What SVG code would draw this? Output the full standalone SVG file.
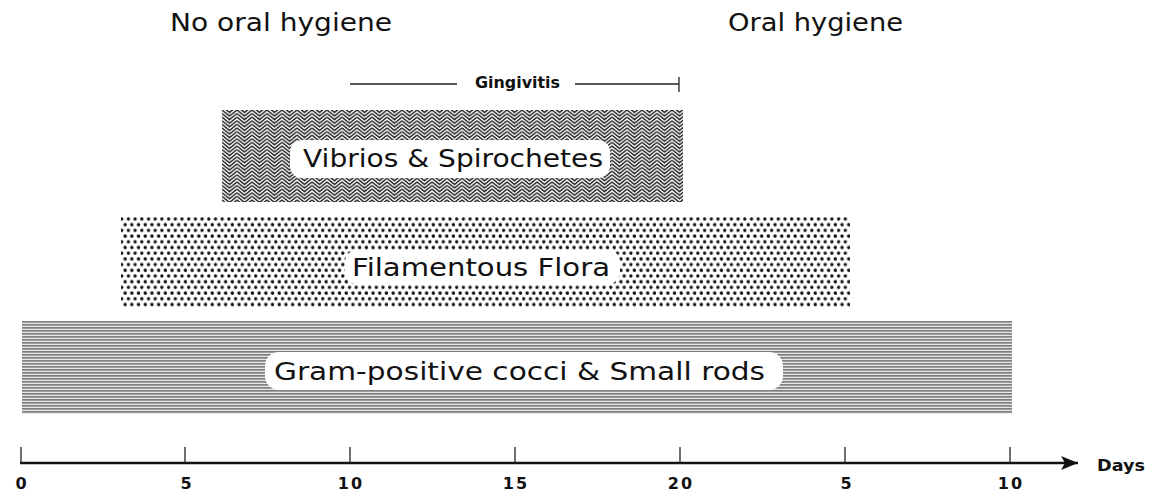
<svg xmlns="http://www.w3.org/2000/svg" width="1150" height="493" viewBox="0 0 1150 493">
<style>
  .big { font-family: "DejaVu Sans", "Liberation Sans", sans-serif; font-size: 25px; fill: #111; }
  .lbl { font-family: "DejaVu Sans", "Liberation Sans", sans-serif; font-size: 24px; fill: #111; }
  .small { font-family: "DejaVu Sans", "Liberation Sans", sans-serif; font-size: 15px; font-weight: bold; fill: #111; }
  .tick { font-family: "DejaVu Sans", "Liberation Sans", sans-serif; font-size: 16px; font-weight: bold; fill: #111; }
  .line { stroke: #111; stroke-width: 2.5; fill: none; }
  .thin { stroke: #222; stroke-width: 1.3; fill: none; }
</style>
<defs>
  <pattern id="zig" x="222" y="110" width="15" height="3.6" patternUnits="userSpaceOnUse">
    <rect width="15" height="3.6" fill="#fff"/>
    <path d="M0,-3.6 L7.5,2.4 L15,-3.6 M0,0 L7.5,6 L15,0 M0,3.6 L7.5,9.6 L15,3.6 M0,-7.2 L7.5,-1.2 L15,-7.2" stroke="#2a2a2a" stroke-width="1.5" fill="none"/>
  </pattern>
  <pattern id="dots" x="120" y="217" width="6.7" height="11.4" patternUnits="userSpaceOnUse">
    <rect width="6.7" height="11.4" fill="#fff"/>
    <circle cx="1.7" cy="2" r="1.7" fill="#111"/>
    <circle cx="5.05" cy="7.7" r="1.7" fill="#111"/>
    <circle cx="-1.65" cy="7.7" r="1.7" fill="#111"/>
  </pattern>
  <pattern id="hlines" x="22" y="321" width="10" height="3" patternUnits="userSpaceOnUse">
    <rect width="10" height="3" fill="#e6e6e6"/>
    <rect y="0" width="10" height="1.7" fill="#808080"/>
  </pattern>
  <marker id="arr" markerWidth="18" markerHeight="16" refX="17" refY="8" orient="auto" markerUnits="userSpaceOnUse">
    <path d="M0,1 L17,8 L0,15 L4,8 Z" fill="#111"/>
  </marker>
</defs>

<g id="headings">
  <text class="big" x="170" y="31" textLength="222" lengthAdjust="spacingAndGlyphs">No oral hygiene</text>
  <text class="big" x="728" y="31" textLength="175" lengthAdjust="spacingAndGlyphs">Oral hygiene</text>
</g>

<g id="gingivitis">
  <line class="thin" x1="350" y1="84" x2="457" y2="84"/>
  <line class="thin" x1="575" y1="84" x2="679" y2="84"/>
  <line class="thin" x1="679" y1="77" x2="679" y2="92"/>
  <text class="small" x="475" y="88" textLength="85" lengthAdjust="spacingAndGlyphs">Gingivitis</text>
</g>

<g id="vibrios">
  <rect x="222" y="110" width="461" height="92" fill="url(#zig)"/>
  <rect x="290" y="140" width="320" height="38" rx="12" fill="#fff"/>
  <text class="lbl" x="303" y="167" textLength="300" lengthAdjust="spacingAndGlyphs">Vibrios &amp; Spirochetes</text>
</g>

<g id="filamentous">
  <rect x="121" y="217" width="729" height="90" fill="url(#dots)"/>
  <rect x="345" y="250" width="275" height="34" rx="12" fill="#fff"/>
  <text class="lbl" x="352" y="276" textLength="258" lengthAdjust="spacingAndGlyphs">Filamentous Flora</text>
</g>

<g id="gram">
  <rect x="22" y="321" width="990" height="93" fill="url(#hlines)"/>
  <rect x="265" y="352" width="518" height="38" rx="14" fill="#fff"/>
  <text class="lbl" x="274" y="380" textLength="491" lengthAdjust="spacingAndGlyphs">Gram-positive cocci &amp; Small rods</text>
</g>

<g id="connectors">
  <line class="line" x1="20" y1="463" x2="1078" y2="463" marker-end="url(#arr)"/>
  <line class="thin" x1="21" y1="447" x2="21" y2="463"/>
  <line class="thin" x1="185" y1="447" x2="185" y2="463"/>
  <line class="thin" x1="350" y1="447" x2="350" y2="463"/>
  <line class="thin" x1="515" y1="447" x2="515" y2="463"/>
  <line class="thin" x1="680" y1="447" x2="680" y2="463"/>
  <line class="thin" x1="845" y1="447" x2="845" y2="463"/>
  <line class="thin" x1="1010" y1="447" x2="1010" y2="463"/>
</g>

<g id="axis-labels">
  <text class="tick" x="21" y="489" text-anchor="middle">0</text>
  <text class="tick" x="186" y="489" text-anchor="middle">5</text>
  <text class="tick" x="351" y="489" text-anchor="middle" letter-spacing="2">10</text>
  <text class="tick" x="516" y="489" text-anchor="middle" letter-spacing="2">15</text>
  <text class="tick" x="681" y="489" text-anchor="middle" letter-spacing="2">20</text>
  <text class="tick" x="846" y="489" text-anchor="middle">5</text>
  <text class="tick" x="1011" y="489" text-anchor="middle" letter-spacing="2">10</text>
  <text class="small" x="1097" y="471" textLength="48" lengthAdjust="spacingAndGlyphs">Days</text>
</g>
</svg>
